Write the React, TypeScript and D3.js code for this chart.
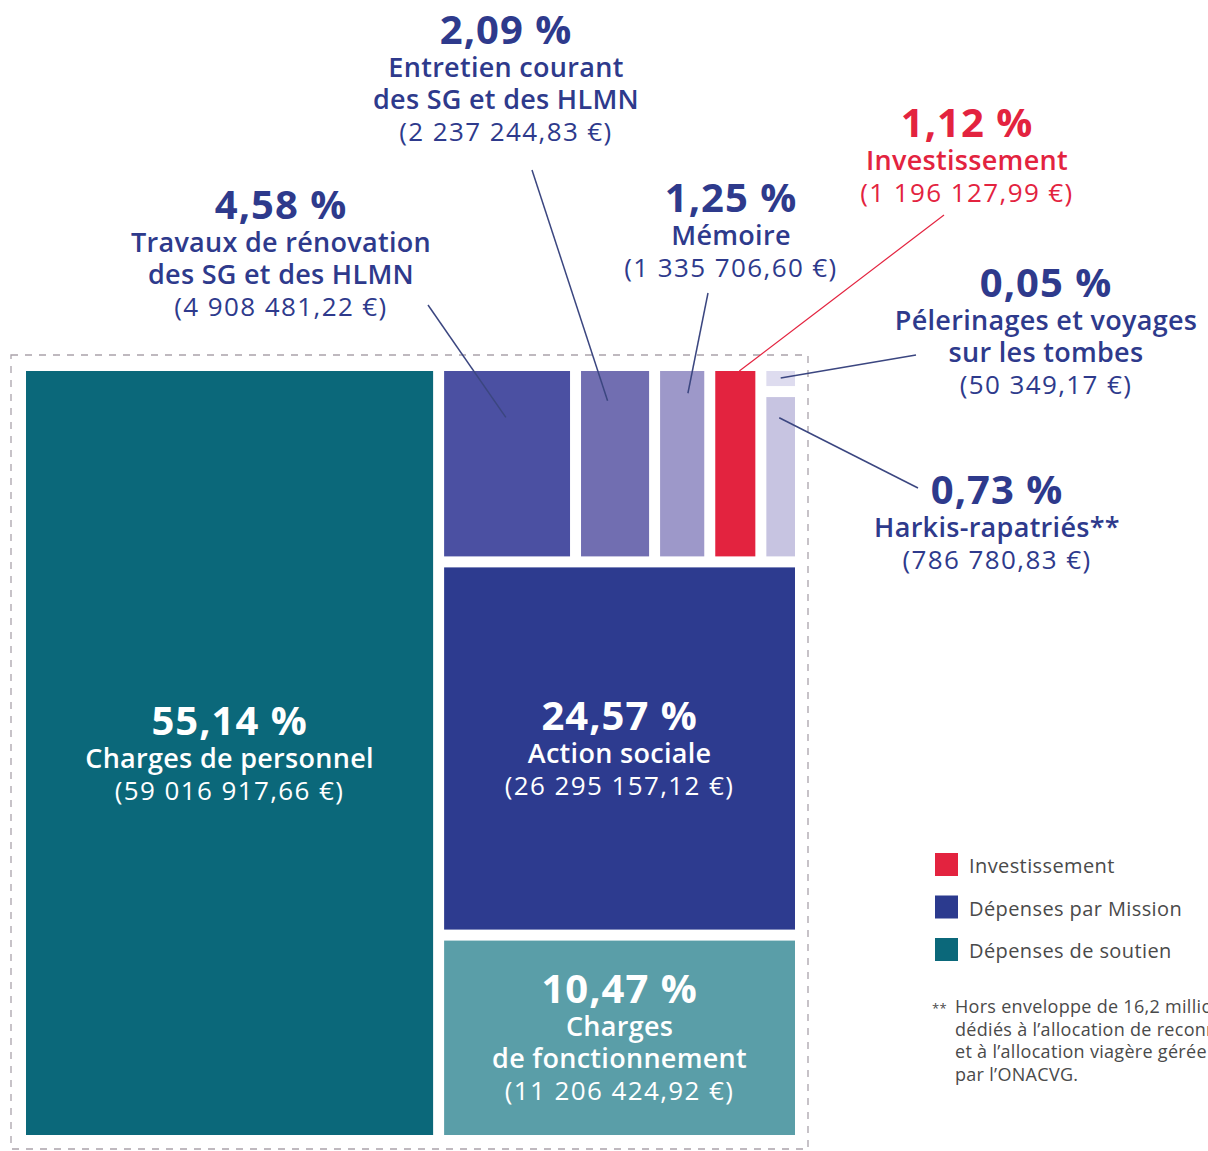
import React from "react";
import * as d3 from "d3";

// ---------- Data ----------
const categories = [
  "Charges de personnel",
  "Action sociale",
  "Charges de fonctionnement",
  "Travaux de rénovation des SG et des HLMN",
  "Entretien courant des SG et des HLMN",
  "Mémoire",
  "Investissement",
  "Pélerinages et voyages sur les tombes",
  "Harkis-rapatriés**",
];
const percents = [55.14, 24.57, 10.47, 4.58, 2.09, 1.25, 1.12, 0.05, 0.73];
const amounts = [
  59016917.66, 26295157.12, 11206424.92, 4908481.22, 2237244.83, 1335706.6,
  1196127.99, 50349.17, 786780.83,
];
const groups = [
  "Dépenses de soutien",
  "Dépenses par Mission",
  "Dépenses de soutien",
  "Dépenses par Mission",
  "Dépenses par Mission",
  "Dépenses par Mission",
  "Investissement",
  "Dépenses par Mission",
  "Dépenses par Mission",
];
const nameLines = [
  ["Charges de personnel"],
  ["Action sociale"],
  ["Charges", "de fonctionnement"],
  ["Travaux de rénovation", "des SG et des HLMN"],
  ["Entretien courant", "des SG et des HLMN"],
  ["Mémoire"],
  ["Investissement"],
  ["Pélerinages et voyages", "sur les tombes"],
  ["Harkis-rapatriés**"],
];
const legendItems = ["Investissement", "Dépenses par Mission", "Dépenses de soutien"];
const footnoteLines = [
  "Hors enveloppe de 16,2 millions d’euros",
  "dédiés à l’allocation de reconnaissance",
  "et à l’allocation viagère gérée",
  "par l’ONACVG.",
];

// ---------- Styles ----------
const fills = ["#0b687a", "#2d3b8f", "#5a9ea8", "#4b50a2", "#716eb1", "#9d98c9", "#e3233f", "#dedcef", "#c7c4e1"];
const legendColors: Record<string, string> = {
  Investissement: "#e3233f",
  "Dépenses par Mission": "#2b3a8e",
  "Dépenses de soutien": "#0b687a",
};
const BLUE = "#2e3a8c";
const RED = "#e3233f";
const FONT = "'Open Sans', sans-serif";

// outside label layout (anchor x, first baseline) and leader line start + relative end in rect
const outside: Record<number, { x: number; y: number; lx: number; ly: number; fx: number; fy: number }> = {
  3: { x: 281, y: 219, lx: 428, ly: 305, fx: 0.49, fy: 0.25 },
  4: { x: 506, y: 44, lx: 532, ly: 170, fx: 0.39, fy: 0.16 },
  5: { x: 731, y: 212, lx: 708, ly: 293, fx: 0.63, fy: 0.12 },
  6: { x: 967, y: 137, lx: 944, ly: 215, fx: 0.6, fy: 0.0 },
  7: { x: 1046, y: 297, lx: 916, ly: 355, fx: 0.5, fy: 0.47 },
  8: { x: 997, y: 504, lx: 918, ly: 488, fx: 0.45, fy: 0.13 },
};

const locale = d3.formatLocale({ decimal: ",", thousands: " ", grouping: [3], currency: ["", " €"] });
const fmtPct = (v: number) => locale.format(".2f")(v) + " %";
const fmtAmt = (v: number) => "(" + locale.format(",.2f")(v) + " €)";

export default function App() {
  const W = 1208, H = 1151;
  const ox = 26, oy = 371, tw = 769, th = 764;

  const leaf = (i: number) => ({ name: categories[i], value: percents[i], i });
  const tree: any = {
    name: "Total",
    children: [
      leaf(0),
      {
        name: "Mission et fonctionnement",
        children: [
          { name: "Postes secondaires", children: [leaf(3), leaf(4), leaf(5), leaf(6), { name: "Colonne", children: [leaf(7), leaf(8)] }] },
          leaf(1),
          leaf(2),
        ],
      },
    ],
  };

  // the designer's layout enlarges small items: areas follow a power scale of the shares
  const weight = d3.scalePow().exponent(0.7).domain([0, 100]).range([0, 100]);
  const tile = (node: any, x0: number, y0: number, x1: number, y1: number) => {
    const kids = node.children;
    const ws = kids.map((c: any) => weight(c.value));
    const total = d3.sum(ws);
    const horizontal = node.depth % 2 === 0;
    let pos = horizontal ? x0 : y0;
    const span = horizontal ? x1 - x0 : y1 - y0;
    kids.forEach((c: any, k: number) => {
      const len = (span * ws[k]) / total;
      if (horizontal) { c.x0 = pos; c.x1 = pos + len; c.y0 = y0; c.y1 = y1; }
      else { c.y0 = pos; c.y1 = pos + len; c.x0 = x0; c.x1 = x1; }
      pos += len;
    });
  };

  const root = d3.hierarchy(tree).sum((d: any) => (d.children ? 0 : d.value));
  d3.treemap().size([tw, th]).paddingInner(11).tile(tile as any)(root as any);
  const leaves: any[] = root.leaves();

  const renderBlock = (i: number, cx: number, y: number, color: string) => {
    const lines = nameLines[i];
    return (
      <g key={"lbl" + i} fill={color} textAnchor="middle" fontFamily={FONT}>
        <text x={cx} y={y} fontSize={40} fontWeight={700} letterSpacing={1}>{fmtPct(percents[i])}</text>
        {lines.map((l, k) => (
          <text key={k} x={cx} y={y + 33 + k * 32} fontSize={27} fontWeight={600} letterSpacing={0.3}>{l}</text>
        ))}
        <text x={cx} y={y + 33 + lines.length * 32} fontSize={26} fontWeight={400} letterSpacing={1.4}>{fmtAmt(amounts[i])}</text>
      </g>
    );
  };

  return (
    <svg width={W} height={H} style={{ position: "absolute", left: 0, top: 0, background: "#fff" }} overflow="hidden">
      <rect x={11} y={355} width={797} height={794} fill="none" stroke="#aaa3ab" strokeWidth={1.3} strokeDasharray="7 7" />
      <g transform={`translate(${ox},${oy})`}>
        {leaves.map((n) => (
          <rect key={n.data.name} x={n.x0} y={n.y0} width={n.x1 - n.x0} height={n.y1 - n.y0} fill={fills[n.data.i]} />
        ))}
      </g>
      {/* inside labels */}
      {leaves.filter((n) => [0, 1, 2].includes(n.data.i)).map((n) => {
        const i = n.data.i;
        const cx = ox + (n.x0 + n.x1) / 2;
        const nl = nameLines[i].length;
        const blockH = 33 + nl * 32;
        const cy = oy + (n.y0 + n.y1) / 2;
        const y = cy - blockH / 2 + 14;
        return renderBlock(i, cx, y, "#ffffff");
      })}
      {/* leader lines */}
      {leaves.filter((n) => outside[n.data.i]).map((n) => {
        const i = n.data.i;
        const o = outside[i];
        const ex = ox + n.x0 + (n.x1 - n.x0) * o.fx;
        const ey = oy + n.y0 + (n.y1 - n.y0) * o.fy;
        return (
          <line key={"ln" + i} x1={o.lx} y1={o.ly} x2={ex} y2={ey}
            stroke={groups[i] === "Investissement" ? RED : "#3b4680"} strokeWidth={groups[i] === "Investissement" ? 1.2 : 1.5} />
        );
      })}
      {/* outside labels */}
      {Object.keys(outside).map((k) => {
        const i = +k;
        const o = outside[i];
        return renderBlock(i, o.x, o.y, groups[i] === "Investissement" ? RED : BLUE);
      })}
      {/* legend */}
      <g fontFamily={FONT} fontSize={20} fill="#4a4a4a" letterSpacing={0.4}>
        {legendItems.map((l, k) => (
          <g key={l} transform={`translate(935,${853 + k * 42.5})`}>
            <rect width={23} height={23} fill={legendColors[l]} />
            <text x={34} y={20}>{l}</text>
          </g>
        ))}
      </g>
      {/* footnote */}
      <g fontFamily={FONT} fontSize={18} fill="#4a4a4a" letterSpacing={0.3}>
        <text x={932} y={1013} fontSize={13}>**</text>
        {footnoteLines.map((l, k) => (
          <text key={k} x={955} y={1013 + k * 22.7}>{l}</text>
        ))}
      </g>
    </svg>
  );
}
